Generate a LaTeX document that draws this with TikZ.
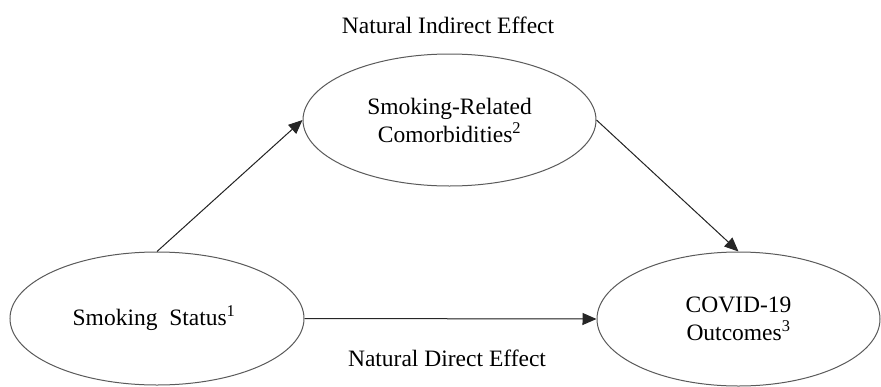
\documentclass[tikz,border=0pt]{standalone}
\usepackage{fontspec}
\setmainfont{Liberation Serif}
\usepackage{tikz}
\usetikzlibrary{arrows.meta,positioning,shapes.geometric}
\usepackage{xcolor}
\definecolor{inkgray}{HTML}{262626}
\definecolor{rimgray}{HTML}{5A5A5A}

\begin{document}
\begin{tikzpicture}[
  font=\fontsize{23.5}{28}\selectfont,
  >={Triangle[length=14pt, width=12pt]},
  varnode/.style={
    ellipse,
    draw=rimgray,
    fill=white,
    line width=1pt,
    inner sep=0pt,
    align=center,
    text=black
  },
  patharrow/.style={
    ->,
    line width=1pt,
    draw=inkgray,
    fill=black
  },
  effectlabel/.style={
    inner sep=0pt,
    text=black
  }
]

  \useasboundingbox (0pt, 0pt) rectangle (881pt, -386pt);

  % =========================================================================
  % VARIABLES
  % =========================================================================
  \node[varnode, minimum width=294pt, minimum height=133pt] (s_status) at (157pt, -318.5pt) {
    Smoking\ \ Status\textsuperscript{1}
  };

  \node[varnode, minimum width=293pt, minimum height=132pt] (c_comorb) at (449.5pt, -120pt) {
    Smoking-Related\\
    Comorbidities\textsuperscript{2}
  };

  \node[varnode, minimum width=283pt, minimum height=134pt] (o_outcome) at (738.5pt, -319pt) {
    COVID-19\\
    Outcomes\textsuperscript{3}
  };

  % =========================================================================
  % PATHS
  % =========================================================================
  \draw[patharrow] (s_status.north) -- (c_comorb.west);
  \draw[patharrow] (c_comorb.east) -- (o_outcome.north);
  \draw[patharrow] (s_status.east) -- (o_outcome.west);

  % Effect labels
  \node[effectlabel] (indirect_lbl) at (448pt, -25pt) {Natural Indirect Effect};
  \node[effectlabel] (direct_lbl) at (447pt, -358pt) {Natural Direct Effect};

\end{tikzpicture}
\end{document}
